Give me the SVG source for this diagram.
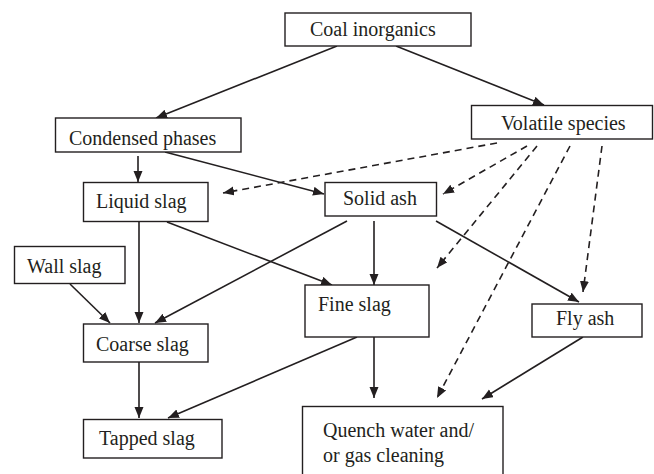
<svg xmlns="http://www.w3.org/2000/svg" width="654" height="474" viewBox="0 0 654 474">
<style>
.box{fill:#fff;stroke:#231f20;stroke-width:1.4}
.lbl{font-family:"Liberation Serif","Times New Roman",serif;font-size:20px;fill:#231f20}
.e{stroke:#231f20;stroke-width:1.6;fill:none;marker-end:url(#ah)}
.d{stroke-dasharray:7 5}
</style>
<defs>
<marker id="ah" markerUnits="userSpaceOnUse" markerWidth="12" markerHeight="10" refX="11" refY="4.5" orient="auto">
<path d="M0,0 L11,4.5 L0,9 z" fill="#231f20"/>
</marker>
</defs>
<rect width="654" height="474" fill="#fff"/>
<g id="edges">
<line class="e" x1="337" y1="46" x2="156" y2="118"/>
<line class="e" x1="396" y1="46" x2="544" y2="105"/>
<line class="e" x1="138" y1="156" x2="138" y2="182"/>
<line class="e" x1="165" y1="152" x2="324" y2="194"/>
<line class="e" x1="139" y1="222" x2="139" y2="323"/>
<line class="e" x1="167" y1="222" x2="332" y2="285"/>
<line class="e" x1="347" y1="221" x2="155" y2="323"/>
<line class="e" x1="374" y1="221" x2="374" y2="285"/>
<line class="e" x1="436" y1="221" x2="579" y2="302"/>
<line class="e" x1="70" y1="284" x2="110" y2="323"/>
<line class="e" x1="139" y1="362" x2="139" y2="418"/>
<line class="e" x1="357" y1="337" x2="168" y2="418"/>
<line class="e" x1="374" y1="337" x2="374" y2="398"/>
<line class="e" x1="583" y1="337" x2="482" y2="399"/>
<line class="e d" x1="497" y1="143" x2="223" y2="193"/>
<line class="e d" x1="527" y1="146" x2="443" y2="194"/>
<line class="e d" x1="537" y1="146" x2="437" y2="268"/>
<line class="e d" x1="570" y1="146" x2="437" y2="398"/>
<line class="e d" x1="602" y1="146" x2="583" y2="292"/>
</g>
<g id="coal"><rect class="box" x="285" y="13" width="186" height="33"/><text class="lbl" x="310" y="36">Coal inorganics</text></g>
<g id="condensed"><rect class="box" x="55.5" y="118" width="185.5" height="34"/><text class="lbl" x="69" y="145">Condensed phases</text></g>
<g id="volatile"><rect class="box" x="471.5" y="105.5" width="181" height="33.5"/><text class="lbl" x="501" y="130">Volatile species</text></g>
<g id="liquid"><rect class="box" x="83.5" y="182.5" width="124.5" height="39"/><text class="lbl" x="96" y="208">Liquid slag</text></g>
<g id="solid"><rect class="box" x="325" y="182.5" width="111.5" height="33.5"/><text class="lbl" x="343" y="205">Solid ash</text></g>
<g id="wall"><rect class="box" x="14.5" y="246.5" width="110.5" height="37"/><text class="lbl" x="27" y="273">Wall slag</text></g>
<g id="fine"><rect class="box" x="305" y="285" width="124" height="52"/><text class="lbl" x="318" y="311">Fine slag</text></g>
<g id="fly"><rect class="box" x="532" y="304" width="110" height="33"/><text class="lbl" x="556" y="325">Fly ash</text></g>
<g id="coarse"><rect class="box" x="83.5" y="324" width="124.5" height="38"/><text class="lbl" x="96" y="351">Coarse slag</text></g>
<g id="tapped"><rect class="box" x="83.5" y="419.5" width="138.5" height="38.5"/><text class="lbl" x="99" y="445">Tapped slag</text></g>
<g id="quench"><rect class="box" x="302.5" y="406.5" width="200.5" height="72"/><text class="lbl" x="323" y="437">Quench water and/</text><text class="lbl" x="323" y="462">or gas cleaning</text></g>
</svg>
